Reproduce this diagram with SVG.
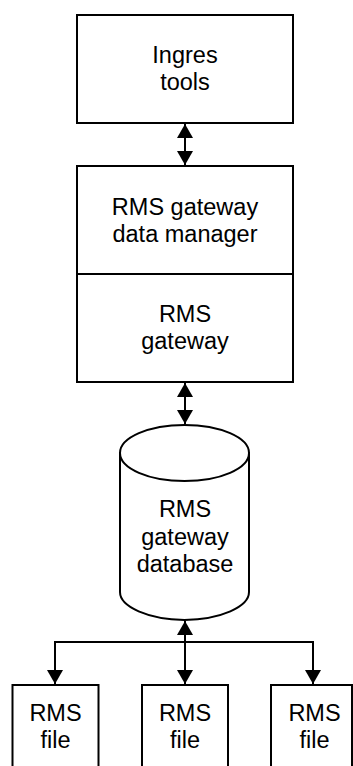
<svg xmlns="http://www.w3.org/2000/svg" width="353" height="766" viewBox="0 0 353 766">
<defs>
<style>
.box{fill:#fff;stroke:#000;stroke-width:2}
.ln{fill:none;stroke:#000;stroke-width:2}
.t{font-family:"Liberation Sans",Arial,sans-serif;font-size:23.5px;fill:#000;text-anchor:middle}
</style>
<marker id="ah" viewBox="0 0 14 16" refX="14" refY="8" markerWidth="14" markerHeight="16" markerUnits="userSpaceOnUse" orient="auto-start-reverse">
<path d="M0,0 L14,8 L0,16 Z" fill="#000"/>
</marker>
</defs>
<rect width="353" height="766" fill="#fff"/>
<g id="connectors">
<line class="ln" x1="185" y1="124" x2="185" y2="165" marker-start="url(#ah)" marker-end="url(#ah)"/>
<line class="ln" x1="185" y1="383" x2="185" y2="424" marker-start="url(#ah)" marker-end="url(#ah)"/>
<line class="ln" x1="185" y1="621" x2="185" y2="684" marker-start="url(#ah)" marker-end="url(#ah)"/>
<polyline class="ln" points="55,684 55,642 313,642 313,684" marker-start="url(#ah)" marker-end="url(#ah)"/>
</g>
<g id="ingres-tools">
<rect class="box" x="77" y="15" width="216" height="108"/>
<text class="t" x="185" y="63">Ingres</text>
<text class="t" x="185" y="89.5">tools</text>
</g>
<g id="rms-gateway-data-manager">
<rect class="box" x="77" y="166" width="216" height="108"/>
<text class="t" x="185" y="215">RMS gateway</text>
<text class="t" x="185" y="241.5">data manager</text>
</g>
<g id="rms-gateway">
<rect class="box" x="77" y="274" width="216" height="108"/>
<text class="t" x="185" y="322">RMS</text>
<text class="t" x="185" y="348.5">gateway</text>
</g>
<g id="rms-gateway-database">
<path class="box" d="M120,453 V592 A68,28 0 0 0 184.5,620 A68,28 0 0 0 249,592 V453 Z"/>
<ellipse class="box" cx="184.5" cy="453" rx="64.5" ry="28"/>
<text class="t" x="185" y="517">RMS</text>
<text class="t" x="185" y="544.5">gateway</text>
<text class="t" x="185" y="572">database</text>
</g>
<g id="rms-file-1">
<rect class="box" x="12.5" y="685" width="86" height="90"/>
<text class="t" x="55.5" y="721">RMS</text>
<text class="t" x="55.5" y="748">file</text>
</g>
<g id="rms-file-2">
<rect class="box" x="142" y="685" width="86" height="90"/>
<text class="t" x="185" y="721">RMS</text>
<text class="t" x="185" y="748">file</text>
</g>
<g id="rms-file-3">
<rect class="box" x="271" y="685" width="81" height="90"/>
<text class="t" x="314.5" y="721">RMS</text>
<text class="t" x="314.5" y="748">file</text>
</g>
</svg>
